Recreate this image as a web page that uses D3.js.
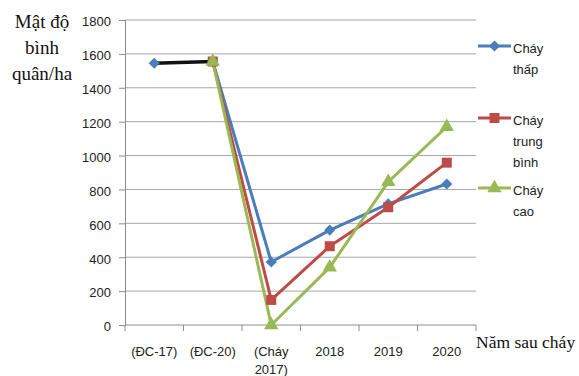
<!DOCTYPE html>
<html>
<head>
<meta charset="utf-8">
<script src="https://cdn.jsdelivr.net/npm/d3@7/dist/d3.min.js"></script>
<style>
  body { margin: 0; background: #fff; }
  svg { display: block; }
</style>
</head>
<body>
<svg id="chart" width="579" height="376"></svg>
<script>
// Category labels (multi-line where needed)
const categories = [["(ĐC-17)"], ["(ĐC-20)"], ["(Cháy", "2017)"], ["2018"], ["2019"], ["2020"]];
const yTicks = [0, 200, 400, 600, 800, 1000, 1200, 1400, 1600, 1800];

// Series values (null = no point)
const lowValues = [1545, 1555, 372, 560, 715, 832];
const midValues = [null, 1555, 148, 465, 695, 958];
const highValues = [null, 1555, 0, 340, 845, 1170];

const seriesNames = [["Cháy", "thấp"], ["Cháy", "trung", "bình"], ["Cháy", "cao"]];
const colors = ["#4a7ebb", "#be4b48", "#98b954"];

const svg = d3.select("#chart");
const plotLeft = 125, plotRight = 476, plotTop = 20, plotBottom = 325;
const sans = "Liberation Sans, Arial, sans-serif";
const serif = "Liberation Serif, Times New Roman, serif";

const x = d3.scaleBand().domain(d3.range(categories.length)).range([plotLeft, plotRight]);
const y = d3.scaleLinear().domain([0, 1800]).range([plotBottom, plotTop]);
const cx = i => x(i) + x.bandwidth() / 2;

// Horizontal gridlines
svg.append("g").selectAll("line").data(yTicks.filter(d => d > 0)).join("line")
  .attr("x1", plotLeft).attr("x2", plotRight)
  .attr("y1", d => y(d)).attr("y2", d => y(d))
  .attr("stroke", "#a6a6a6").attr("stroke-width", 1);

// Y axis
const yAxis = svg.append("g").attr("transform", `translate(${plotLeft},0)`)
  .call(d3.axisLeft(y).tickValues(yTicks).tickFormat(d3.format("d")).tickSize(6).tickPadding(8));
yAxis.select(".domain").attr("stroke", "#8c8c8c");
yAxis.selectAll(".tick line").attr("stroke", "#8c8c8c");
yAxis.selectAll("text").attr("font-family", sans)
  .attr("font-size", 13).attr("fill", "#222").attr("dy", "0.45em");

// X axis with boundary ticks
svg.append("line").attr("x1", plotLeft).attr("x2", plotRight).attr("y1", plotBottom).attr("y2", plotBottom)
  .attr("stroke", "#8c8c8c");
svg.append("g").selectAll("line").data(d3.range(categories.length + 1)).join("line")
  .attr("x1", i => plotLeft + i * x.bandwidth()).attr("x2", i => plotLeft + i * x.bandwidth())
  .attr("y1", plotBottom).attr("y2", plotBottom + 6).attr("stroke", "#8c8c8c");

const xl = svg.append("g").selectAll("text").data(categories).join("text")
  .attr("text-anchor", "middle")
  .attr("font-family", sans)
  .attr("font-size", 13).attr("fill", "#222");
xl.each(function (lines, i) {
  d3.select(this).selectAll("tspan").data(lines).join("tspan")
    .attr("x", cx(i)).attr("y", (d, j) => 356 + j * 18).text(d => d);
});

// Axis titles
svg.append("text").attr("font-family", serif).attr("font-size", 19).attr("fill", "#111")
  .attr("text-anchor", "middle")
  .selectAll("tspan").data(["Mật độ", "bình", "quân/ha"]).join("tspan")
  .attr("x", 42).attr("y", (d, j) => 28 + j * 26).text(d => d);
svg.append("text").attr("font-family", serif).attr("font-size", 17.5).attr("fill", "#111")
  .attr("x", 476).attr("y", 348).text("Năm sau cháy");

// Marker shapes: diamond is a square turned 45 degrees
const markers = [
  { type: d3.symbolSquare, size: 62, rotate: 45 },
  { type: d3.symbolSquare, size: 100, rotate: 0 },
  { type: d3.symbolTriangle, size: 90, rotate: 0 }
];
const allSeries = [lowValues, midValues, highValues];

const line = d3.line().defined(d => d.v !== null).x(d => cx(d.i)).y(d => y(d.v));

// Segment between the two control plots
svg.append("path")
  .attr("d", line([{ i: 0, v: lowValues[0] }, { i: 1, v: lowValues[1] }]))
  .attr("fill", "none").attr("stroke", "#111").attr("stroke-width", 3.5);

// Post-fire segments in series colour
allSeries.forEach((vals, s) => {
  const pts = vals.map((v, i) => ({ i, v })).filter(d => d.i >= 1);
  svg.append("path").attr("d", line(pts))
    .attr("fill", "none").attr("stroke", colors[s]).attr("stroke-width", 3)
    .attr("stroke-linejoin", "round");
});
allSeries.forEach((vals, s) => {
  const m = markers[s];
  svg.append("g").selectAll("path")
    .data(vals.map((v, i) => ({ i, v })).filter(d => d.v !== null)).join("path")
    .attr("transform", d => `translate(${cx(d.i)},${y(d.v)}) rotate(${m.rotate})`)
    .attr("d", d3.symbol(m.type, m.size))
    .attr("fill", colors[s]);
});

// Legend
const legendLineY = [46, 118, 188];
const legendTextY = [53, 125, 195];
const lg = svg.append("g");
seriesNames.forEach((lines, s) => {
  const ly = legendLineY[s];
  const m = markers[s];
  lg.append("line").attr("x1", 478).attr("x2", 511).attr("y1", ly).attr("y2", ly)
    .attr("stroke", colors[s]).attr("stroke-width", 3);
  lg.append("path").attr("transform", `translate(494.5,${ly}) rotate(${m.rotate})`)
    .attr("d", d3.symbol(m.type, m.size)).attr("fill", colors[s]);
  lg.append("text").attr("font-family", sans)
    .attr("font-size", 13).attr("fill", "#222")
    .selectAll("tspan").data(lines).join("tspan")
    .attr("x", 513).attr("y", (d, j) => legendTextY[s] + j * 21).text(d => d);
});
</script>
</body>
</html>
